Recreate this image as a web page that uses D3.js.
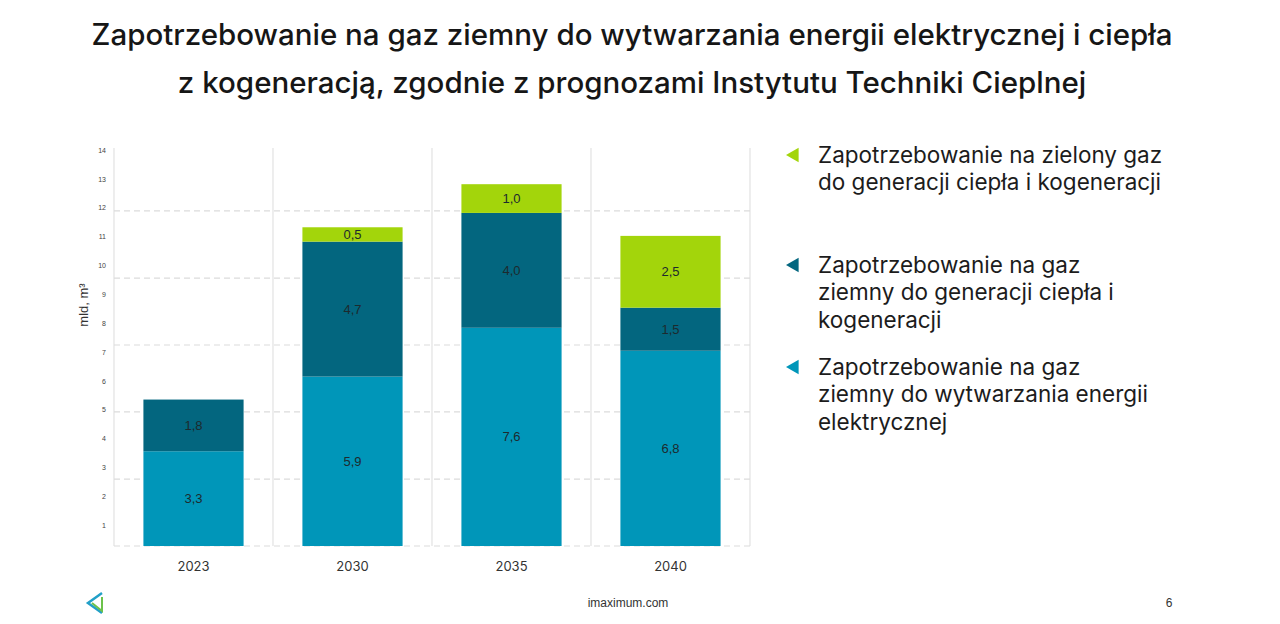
<!DOCTYPE html>
<html><head><meta charset="utf-8">
<script src="https://cdn.jsdelivr.net/npm/d3@7"></script>
<style>
html,body{margin:0;padding:0;background:#fff;}
svg{display:block;}
</style></head>
<body>
<svg id="chart" width="1280" height="624"></svg>
<script>
const years = ["2023","2030","2035","2040"];
const electricity = [3.3, 5.9, 7.6, 6.8];
const heatCogen = [1.8, 4.7, 4.0, 1.5];
const greenGas = [0, 0.5, 1.0, 2.5];
const yTicks = [1,2,3,4,5,6,7,8,9,10,11,12,13,14];
const gridValues = [0, 2.33, 4.67, 7, 9.33, 11.67];
const seriesKeys = ["electricity","heatCogen","greenGas"];
const colors = {electricity:"#0096b9", heatCogen:"#03667f", greenGas:"#a3d50b"};
const legendItems = [
  {key:"greenGas", lines:["Zapotrzebowanie na zielony gaz","do generacji ciepła i kogeneracji"]},
  {key:"heatCogen", lines:["Zapotrzebowanie na gaz","ziemny do generacji ciepła i","kogeneracji"]},
  {key:"electricity", lines:["Zapotrzebowanie na gaz","ziemny do wytwarzania energii","elektrycznej"]}
];
const titleLines = ["Zapotrzebowanie na gaz ziemny do wytwarzania energii elektrycznej i ciepła",
                    "z kogeneracją, zgodnie z prognozami Instytutu Techniki Cieplnej"];

const table = years.map((y,i)=>({year:y, electricity:electricity[i], heatCogen:heatCogen[i], greenGas:greenGas[i]}));

const svg = d3.select("#chart");
const font = "Inter, 'Noto Sans', sans-serif";

// title
svg.append("g").selectAll("text").data(titleLines).join("text")
  .attr("x", 632).attr("y",(d,i)=>45+i*48)
  .attr("text-anchor","middle")
  .attr("font-family",font).attr("font-size",29.5).attr("font-weight",500)
  .attr("fill","#161616").text(d=>d);

const plot = {left:114, right:750, top:148, bottom:546};
const x = d3.scaleBand().domain(years).range([plot.left, plot.right]).paddingInner(0.37).paddingOuter(0.185);
const y = d3.scaleLinear().domain([0,14]).range([plot.bottom, 144]);
const yLabelScale = d3.scaleLinear().domain([0,14]).range([554, 150]);
const xCells = d3.scaleBand().domain(years).range([plot.left, plot.right]);

// vertical grid
const g = svg.append("g");
g.selectAll("line.v").data(years.concat(["end"])).join("line")
  .attr("x1",(d,i)=>plot.left + i*xCells.bandwidth()).attr("x2",(d,i)=>plot.left + i*xCells.bandwidth())
  .attr("y1",plot.top).attr("y2",plot.bottom)
  .attr("stroke","#e2e2e2").attr("stroke-width",1.2);
// horizontal dashed grid
g.selectAll("line.h").data(gridValues).join("line")
  .attr("x1",plot.left).attr("x2",plot.right)
  .attr("y1",d=>y(d)).attr("y2",d=>y(d))
  .attr("stroke","#dcdcdc").attr("stroke-width",1.2).attr("stroke-dasharray","6,4");

// stacks
const stack = d3.stack().keys(seriesKeys)(table);
const layers = svg.append("g").selectAll("g").data(stack).join("g").attr("fill",d=>colors[d.key]);
layers.selectAll("rect").data(d=>d.filter(s=>s[1]-s[0]>0)).join("rect")
  .attr("x",d=>x(d.data.year)).attr("width",x.bandwidth())
  .attr("y",d=>y(d[1])).attr("height",d=>y(d[0])-y(d[1]));
layers.selectAll("text").data(d=>d.filter(s=>s[1]-s[0]>0)).join("text")
  .attr("x",d=>x(d.data.year)+x.bandwidth()/2)
  .attr("y",d=>(y(d[0])+y(d[1]))/2)
  .attr("dy","0.35em").attr("text-anchor","middle")
  .attr("font-family","'Liberation Sans', Arial, sans-serif").attr("font-size",13)
  .attr("fill","#1d2a2e")
  .text(d=>d3.format(".1f")(d[1]-d[0]).replace(".",","));

// y axis tick labels
const yAxis = d3.axisLeft(yLabelScale).tickValues(yTicks).tickSize(0).tickPadding(8);
const ya = svg.append("g").attr("transform",`translate(${plot.left},0)`).call(yAxis);
ya.select(".domain").remove();
ya.selectAll("text").attr("font-family","'Liberation Sans', Arial, sans-serif").attr("font-size",7).attr("fill","#444");

svg.append("text").attr("transform","translate(88,305) rotate(-90)")
  .attr("text-anchor","middle").attr("font-family","'Liberation Sans', Arial, sans-serif")
  .attr("font-size",13).attr("fill","#333").text("mld, m³");

// x axis
const xAxis = d3.axisBottom(x).tickSize(0).tickPadding(16);
const xa = svg.append("g").attr("transform",`translate(0,${plot.bottom})`).call(xAxis);
xa.select(".domain").remove();
xa.selectAll("text").attr("font-family","Inter, sans-serif").attr("font-size",13).attr("fill","#333");

// legend
const legendTop = [155, 265, 367];
const lg = svg.append("g").selectAll("g").data(legendItems).join("g")
  .attr("transform",(d,i)=>`translate(786,${legendTop[i]})`);
lg.append("path").attr("d","M0,0 L14,-8 L14,8 Z").attr("transform","scale(0.9)").attr("fill",d=>colors[d.key]);
lg.selectAll("text").data(d=>d.lines).join("text")
  .attr("x",32).attr("y",(d,i)=>i*27.5).attr("dy","0.35em")
  .attr("font-family",font).attr("font-size",22.5).attr("fill","#1c1c1c").text(d=>d);

// footer
const logo = svg.append("g").attr("transform","translate(86,593)");
logo.append("path").attr("d","M16,0 L2,10 L16,20").attr("fill","none").attr("stroke","#22a0c8").attr("stroke-width",2.5);
logo.append("path").attr("d","M6,10 L16,18 L16,4").attr("fill","none").attr("stroke","#6cc24a").attr("stroke-width",2);
svg.append("text").attr("x",628).attr("y",607).attr("text-anchor","middle")
  .attr("font-family","'Liberation Sans', Arial, sans-serif").attr("font-size",12).attr("fill","#333").text("imaximum.com");
svg.append("text").attr("x",1169).attr("y",607).attr("text-anchor","middle")
  .attr("font-family","'Liberation Sans', Arial, sans-serif").attr("font-size",12).attr("fill","#333").text("6");
</script>
</body></html>
